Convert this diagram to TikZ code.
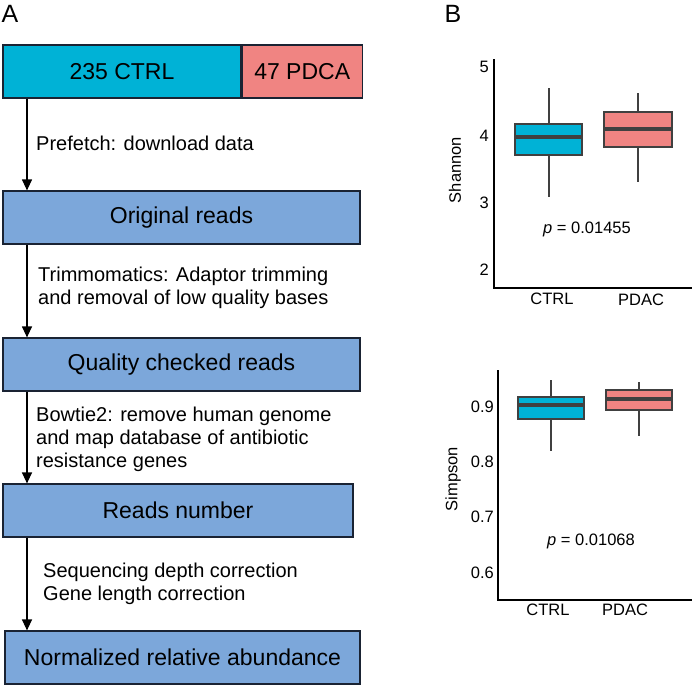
\documentclass[tikz,border=0pt]{standalone}
\usepackage{fontspec}
\setmainfont{Liberation Sans}
\usetikzlibrary{arrows.meta}
\definecolor{ctrlc}{HTML}{00B2D6}
\definecolor{pdacc}{HTML}{F08482}
\definecolor{flowblue}{HTML}{7CA7DA}
\definecolor{boxline}{HTML}{1A2333}
\definecolor{plotgray}{HTML}{404040}
\begin{document}
\begin{tikzpicture}[x=1pt,y=-1pt,
  flowbox/.style={draw=boxline, fill=flowblue, line width=1.2pt, minimum height=53pt, inner sep=0pt, font=\fontsize{23}{27}\selectfont, text=black},
  barbox/.style={flowbox, minimum height=53pt},
  note/.style={anchor=base west, align=left, font=\fontsize{20}{23}\selectfont, inner sep=0pt},
  arr/.style={-{Triangle[width=10pt,length=11pt]}, line width=1.2pt},
  panel/.style={font=\fontsize{25}{28}\selectfont, inner sep=0pt},
  tick/.style={anchor=east, font=\fontsize{16.5}{19}\selectfont, inner sep=0pt},
  lbl/.style={font=\fontsize{16.5}{19}\selectfont, inner sep=0pt},
  axisline/.style={line width=1.5pt, black},
  whisk/.style={line width=1.6pt, plotgray},
  bx/.style={line width=1.6pt, draw=plotgray},
  med/.style={line width=3.6pt, plotgray}
]
\useasboundingbox (0,0) rectangle (692,685);
\fill[white] (0,0) rectangle (692,685);

% panel labels
\node[panel] (pa) at (10,14) {A};
\node[panel] (pb) at (453,14) {B};

% flowchart
\coordinate (ax) at (27,0);
\node[barbox, fill=ctrlc, minimum width=238pt] (ctrl) at (122,71.5) {235 CTRL};
\node[barbox, fill=pdacc, minimum width=120pt, anchor=west] (pdca) at (ctrl.east) {47 PDCA};
\node[flowbox, minimum width=357pt] (orig) at (181.5,217.5) {Original reads};
\node[flowbox, minimum width=357pt] (qual) at (181.5,364.5) {Quality checked reads};
\node[flowbox, minimum width=350pt] (reads) at (178,510.5) {Reads number};
\node[flowbox, minimum width=355pt] (norm) at (182.5,657.5) {Normalized relative abundance};

\draw[arr] (ctrl.south -| ax) -- (orig.north -| ax);
\draw[arr] (orig.south -| ax) -- (qual.north -| ax);
\draw[arr] (qual.south -| ax) -- (reads.north -| ax);
\draw[arr] (reads.south -| ax) -- (norm.north -| ax);

% anchor base = baseline of the last line
\node[note] (n1) at (36,150) {Prefetch: download data};
\node[note] (n2) at (38,304) {Trimmomatics: Adaptor trimming\\and removal of low quality bases};
\node[note] (n3) at (36,467) {Bowtie2: remove human genome\\and map database of antibiotic\\resistance genes};
\node[note] (n4) at (43,600) {Sequencing depth correction\\Gene length correction};

% plot 1: Shannon
\draw[axisline] (494,59) -- (494,288) -- (692,288);
\node[tick] (s5) at (489,67) {5};
\node[tick] (s4) at (489,136) {4};
\node[tick] (s3) at (489,203) {3};
\node[tick] (s2) at (489,270) {2};
\node[lbl, rotate=90] (shan) at (455,170) {Shannon};
\draw[whisk] (549,88) -- (549,197);
\draw[bx, fill=ctrlc] (515,124) rectangle (582,155);
\draw[med] (515,137) -- (582,137);
\draw[whisk] (638,93) -- (638,182);
\draw[bx, fill=pdacc] (604,112) rectangle (672,147);
\draw[med] (604,129) -- (672,129);
\node[lbl] (p1) at (587,229) {\textit{p} = 0.01455};
\node[lbl] (x1a) at (552,299) {CTRL};
\node[lbl] (x1b) at (641,300) {PDAC};

% plot 2: Simpson
\draw[axisline] (498,370) -- (498,600) -- (692,600);
\node[tick] (r9) at (494,407) {0.9};
\node[tick] (r8) at (494,462) {0.8};
\node[tick] (r7) at (494,517) {0.7};
\node[tick] (r6) at (494,573) {0.6};
\node[lbl, rotate=90] (simp) at (453,479) {Simpson};
\draw[whisk] (551,380) -- (551,451);
\draw[bx, fill=ctrlc] (518,397) rectangle (584,419);
\draw[med] (518,405) -- (584,405);
\draw[whisk] (639,382) -- (639,436);
\draw[bx, fill=pdacc] (606,390) rectangle (672,410);
\draw[med] (606,399) -- (672,399);
\node[lbl] (p2) at (591,541) {\textit{p} = 0.01068};
\node[lbl] (x2a) at (548,610) {CTRL};
\node[lbl] (x2b) at (625,610) {PDAC};
\end{tikzpicture}
\end{document}
